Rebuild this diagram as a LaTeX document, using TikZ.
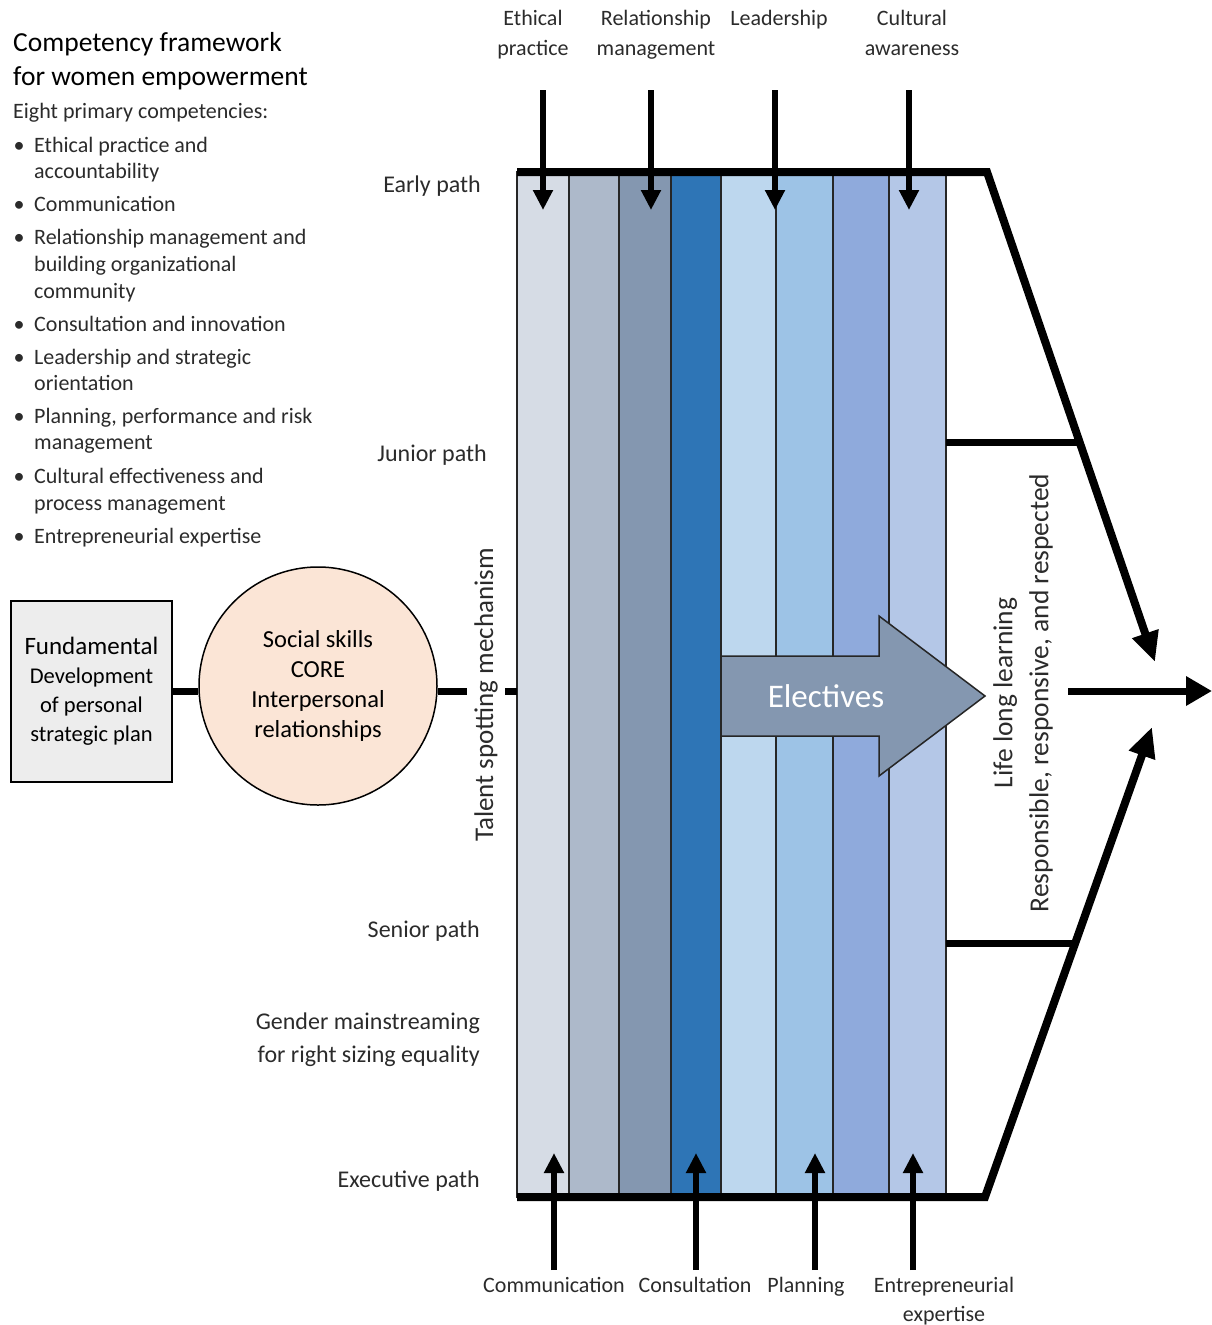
\documentclass[tikz,border=0pt]{standalone}
\usepackage{fontspec}
\setmainfont{Carlito}
\usetikzlibrary{arrows.meta}
\definecolor{cA}{HTML}{D6DCE5}
\definecolor{cB}{HTML}{ADB9CA}
\definecolor{cC}{HTML}{8497B0}
\definecolor{cD}{HTML}{2E75B6}
\definecolor{cE}{HTML}{BDD7EE}
\definecolor{cF}{HTML}{9DC3E6}
\definecolor{cG}{HTML}{8FAADC}
\definecolor{cH}{HTML}{B4C7E7}
\definecolor{boxgray}{HTML}{EDEDED}
\definecolor{peach}{HTML}{FBE5D6}
\definecolor{txt}{HTML}{2B2B2B}
\begin{document}
\begin{tikzpicture}[x=1pt,y=-1pt,
  lt/.style={font=\fontsize{22}{27}\selectfont, text=txt, inner sep=0pt},
  ttl/.style={font=\fontsize{27.5}{33}\selectfont, text=black, inner sep=0pt, anchor=base west},
  item/.style={lt, anchor=base west},
  bul/.style={lt, anchor=base},
  toplbl/.style={lt, anchor=base},
  pathlbl/.style={font=\fontsize{24}{29}\selectfont, text=txt, inner sep=0pt, anchor=base east},
  colbox/.style={draw=black!85, line width=2pt, minimum width=#1, minimum height=1025pt, inner sep=0pt, outer sep=0pt, anchor=north west},
  arr/.style={line width=6pt, -{Triangle[length=20pt,width=19pt]}},
  bigarr/.style={line width=8pt, line join=miter, -{Triangle[length=30pt,width=26pt]}},
  bar/.style={line width=7pt},
  link/.style={line width=7pt}
]
\useasboundingbox (0,0) rectangle (1212,1325);

% ---- title and list ----
\node[ttl] (t1) at (13,51) {Competency framework};
\node[ttl] (t2) at (13,85) {for women empowerment};
\node[item] (sub) at (13,118) {Eight primary competencies:};

\node[bul] (b1) at (19,152) {•};
\node[item] (i1a) at (34,152) {Ethical practice and};
\node[item] (i1b) at (34,178) {accountability};
\node[bul] (b2) at (19,211) {•};
\node[item] (i2a) at (34,211) {Communication};
\node[bul] (b3) at (19,244) {•};
\node[item] (i3a) at (34,244) {Relationship management and};
\node[item] (i3b) at (34,271) {building organizational};
\node[item] (i3c) at (34,298) {community};
\node[bul] (b4) at (19,331) {•};
\node[item] (i4a) at (34,331) {Consultation and innovation};
\node[bul] (b5) at (19,364) {•};
\node[item] (i5a) at (34,364) {Leadership and strategic};
\node[item] (i5b) at (34,390) {orientation};
\node[bul] (b6) at (19,423) {•};
\node[item] (i6a) at (34,423) {Planning, performance and risk};
\node[item] (i6b) at (34,449) {management};
\node[bul] (b7) at (19,483) {•};
\node[item] (i7a) at (34,483) {Cultural effectiveness and};
\node[item] (i7b) at (34,510) {process management};
\node[bul] (b8) at (19,543) {•};
\node[item] (i8a) at (34,543) {Entrepreneurial expertise};

% ---- columns ----
\node[colbox=52pt, fill=cA] (k1) at (517,172) {};
\node[colbox=50pt, fill=cB] (k2) at (569,172) {};
\node[colbox=52pt, fill=cC] (k3) at (619,172) {};
\node[colbox=50pt, fill=cD] (k4) at (671,172) {};
\node[colbox=55pt, fill=cE] (k5) at (721,172) {};
\node[colbox=57pt, fill=cF] (k6) at (776,172) {};
\node[colbox=56pt, fill=cG] (k7) at (833,172) {};
\node[colbox=57pt, fill=cH] (k8) at (889,172) {};

% ---- electives arrow ----
\draw[fill=cC, draw=black!85, line width=1.5pt]
  (721,656) -- (879,656) -- (879,616) -- (985,696) -- (879,776) -- (879,736) -- (721,736) -- cycle;
\node[text=white, font=\fontsize{33}{40}\selectfont, inner sep=0pt] (el) at (826,696) {Electives};

% ---- frame lines ----
\coordinate (tl) at (517,172);
\coordinate (tc) at (987,172);
\coordinate (tt) at (1155,662);
\coordinate (bl) at (517,1197);
\coordinate (bc) at (985,1197);
\coordinate (bt) at (1152,727);
\draw[bigarr] (tl) -- (tc) -- (tt);
\draw[bigarr] (bl) -- (bc) -- (bt);
\coordinate (j1) at (946,442);
\coordinate (j2) at (1079,442);
\coordinate (s1) at (946,943);
\coordinate (s2) at (1075,943);
\draw[bar] (j1) -- (j2);
\draw[bar] (s1) -- (s2);
\coordinate (m1) at (1068,691);
\coordinate (m2) at (1212,691);
\draw[line width=7pt, -{Triangle[length=26pt,width=28pt]}] (m1) -- (m2);

% ---- top arrows ----
\foreach \n/\x in {1/543,2/651,3/775,4/909}{
  \coordinate (ua\n) at (\x,90);
  \coordinate (ub\n) at (\x,210);
  \draw[arr] (ua\n) -- (ub\n);
}
% ---- bottom arrows ----
\foreach \n/\x in {1/554,2/696,3/815,4/913}{
  \coordinate (da\n) at (\x,1270);
  \coordinate (db\n) at (\x,1153);
  \draw[arr] (da\n) -- (db\n);
}

% ---- top labels ----
\node[toplbl] (e1) at (533,25) {Ethical};
\node[toplbl] (e2) at (533,55) {practice};
\node[toplbl] (r1) at (656,25) {Relationship};
\node[toplbl] (r2) at (656,55) {management};
\node[toplbl] (l1) at (779,25) {Leadership};
\node[toplbl] (c1) at (912,25) {Cultural};
\node[toplbl] (c2) at (912,55) {awareness};

% ---- bottom labels ----
\node[toplbl] (bl1) at (554,1292) {Communication};
\node[toplbl] (bl2) at (695,1292) {Consultation};
\node[toplbl] (bl3) at (806,1292) {Planning};
\node[toplbl] (bl4) at (944,1292) {Entrepreneurial};
\node[toplbl] (bl5) at (944,1321) {expertise};

% ---- path labels ----
\node[pathlbl] (p1) at (481,192) {Early path};
\node[pathlbl] (p2) at (487,461) {Junior path};
\node[pathlbl] (p3) at (480,937) {Senior path};
\node[pathlbl] (p4) at (480,1029) {Gender mainstreaming};
\node[pathlbl] (p5) at (480,1062) {for right sizing equality};
\node[pathlbl] (p6) at (480,1187) {Executive path};

% ---- left box and circle ----
\node[draw=black, line width=2pt, fill=boxgray, minimum width=161pt, minimum height=181pt,
      inner sep=0pt, align=center, font=\fontsize{22.5}{29}\selectfont] (fund) at (91.5,691.5)
  {{\fontsize{25}{29}\selectfont Fundamental}\\Development\\of personal\\strategic plan};
\node[circle, draw=black, line width=1.5pt, fill=peach, minimum size=238pt, inner sep=0pt,
      align=center, font=\fontsize{24.5}{30}\selectfont] (core) at (318,686)
  {Social skills\\CORE\\Interpersonal\\relationships};
\draw[link] (fund.east) -- (fund.east -| core.west);
\draw[link] (core.east |- fund.east) -- (fund.east -| k1.west);
\node[rotate=90, fill=white, font=\fontsize{27}{33}\selectfont, text=txt, inner xsep=0pt, inner ysep=7pt] (talent) at (486,695) {Talent spotting mechanism};

% ---- right rotated text ----
\node[rotate=90, align=center, font=\fontsize{27.5}{36}\selectfont, text=txt, inner sep=0pt] (life) at (1023,693)
  {Life long learning\\Responsible, responsive, and respected};
\end{tikzpicture}
\end{document}
